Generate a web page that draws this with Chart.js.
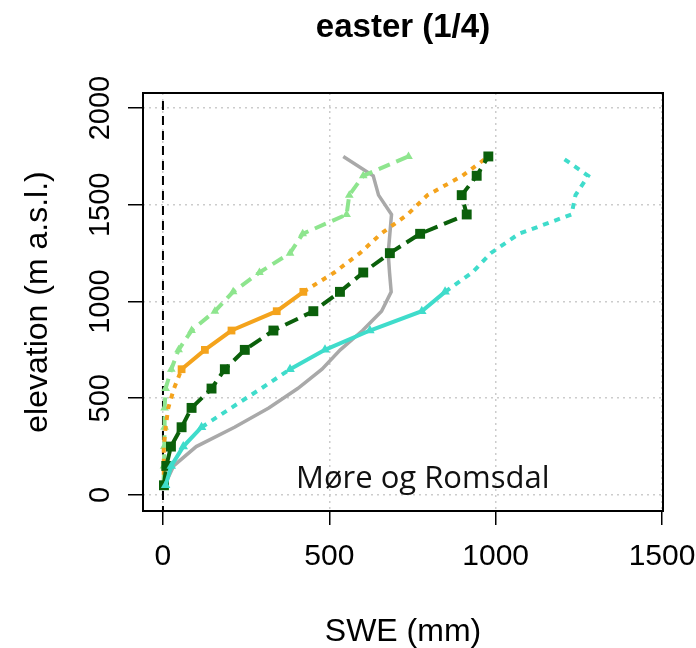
<!DOCTYPE html>
<html>
<head>
<meta charset="utf-8">
<title>easter (1/4)</title>
<script src="https://cdn.jsdelivr.net/npm/chart.js@4.4.0/dist/chart.umd.min.js"></script>
<style>
  html, body { margin: 0; padding: 0; background: #fff; }
  canvas { display: block; }
</style>
</head>
<body>
<canvas id="chart" width="696" height="648"></canvas>
<script>
// elevation bands (m a.s.l.) and SWE (mm) per curve
const elevation = [50, 150, 250, 350, 450, 550, 650, 750, 850, 950, 1050, 1150, 1250, 1350, 1450, 1550, 1650, 1750];

const sweGrey       = [5, 32, 100, 215, 318, 405, 478, 533, 600, 657, 686, 681, 677, 682, 687, 648, 632, 542];
const sweLightGreen = [2, 3, 4, 5, 5, 8, 25, 47, 86, 156, 211, 290, 382, 420, 552, 560, 602, 738];
const sweOrange     = [1, 2, 3, 8, 16, 33, 56, 126, 206, 342, 422, 515, 592, 655, 735, 795, 900, 978];
const sweDarkGreen  = [3, 10, 24, 56, 86, 146, 186, 246, 332, 452, 532, 602, 682, 773, 913, 898, 943, 978];
const sweTurquoise  = [8, 25, 61, 116, 205, 295, 382, 487, 622, 778, 848, 930, 985, 1070, 1228, 1240, 1278, 1195];

// index ranges drawn solid (with markers); the rest is dotted
const orangeSolid = [[6, 10]];
const turquoiseSolid = [[0, 3], [6, 10]];

const xTicks = [0, 500, 1000, 1500];
const xTickLabels = ['0', '500', '1000', '1500'];
const yTicks = [0, 500, 1000, 1500, 2000];
const yTickLabels = ['0', '500', '1000', '1500', '2000'];

const pairs = swe => swe.map((v, i) => ({ x: v, y: elevation[i] }));
const inRanges = (ranges, a, b) => ranges.some(r => a >= r[0] && b <= r[1]);

function dottedOutside(ranges, dash) {
  return ctx => inRanges(ranges, ctx.p0DataIndex, ctx.p1DataIndex) ? [] : dash;
}
function radiusInside(ranges, r) {
  return elevation.map((e, i) => inRanges(ranges, i, i) ? r : 0);
}

const axisFont = 'Liberation Sans, Arial, sans-serif';

const framePlugin = {
  id: 'frame',
  beforeDatasetsDraw(chart) {
    const { ctx, chartArea: a, scales: { x } } = chart;
    const px = x.getPixelForValue(0);
    ctx.save();
    ctx.strokeStyle = '#000';
    ctx.lineWidth = 2;
    ctx.setLineDash([9, 6]);
    ctx.beginPath();
    ctx.moveTo(px, a.top + 8);
    ctx.lineTo(px, a.bottom);
    ctx.stroke();
    ctx.restore();
  },
  afterDraw(chart) {
    const { ctx, chartArea: a, scales: { x, y } } = chart;
    ctx.save();
    ctx.strokeStyle = '#000';
    ctx.lineWidth = 2;
    ctx.strokeRect(a.left, a.top, a.right - a.left, a.bottom - a.top);

    ctx.fillStyle = '#000';
    ctx.textAlign = 'center';
    ctx.textBaseline = 'alphabetic';
    ctx.font = 'bold 33px ' + axisFont;
    ctx.fillText('easter (1/4)', (a.left + a.right) / 2, 37);

    ctx.font = '32px ' + axisFont;
    ctx.textBaseline = 'middle';
    ctx.fillText('SWE (mm)', (a.left + a.right) / 2, 632);

    ctx.save();
    ctx.translate(38, (a.top + a.bottom) / 2);
    ctx.rotate(-Math.PI / 2);
    ctx.fillText('elevation (m a.s.l.)', 0, 0);
    ctx.restore();

    ctx.font = '30px ' + axisFont;
    xTicks.forEach((v, i) => {
      ctx.fillText(xTickLabels[i], x.getPixelForValue(v), 557);
    });

    ctx.font = '29px ' + axisFont;
    yTicks.forEach((v, i) => {
      ctx.save();
      ctx.translate(101, y.getPixelForValue(v));
      ctx.rotate(-Math.PI / 2);
      ctx.fillText(yTickLabels[i], 0, 0);
      ctx.restore();
    });

    ctx.textAlign = 'left';
    ctx.textBaseline = 'alphabetic';
    ctx.font = '31px "Open Sans", sans-serif';
    ctx.fillStyle = '#111';
    ctx.fillText('Møre og Romsdal', x.getPixelForValue(400), y.getPixelForValue(36));
    ctx.restore();
  }
};

new Chart(document.getElementById('chart'), {
  type: 'scatter',
  data: {
    datasets: [
      {
        data: pairs(sweGrey),
        showLine: true,
        borderColor: '#a9a9a9',
        borderWidth: 3.5,
        pointRadius: 0,
        order: 5
      },
      {
        data: pairs(sweLightGreen),
        showLine: true,
        borderColor: '#8ee58e',
        backgroundColor: '#8ee58e',
        borderWidth: 4,
        borderDash: [12, 7],
        pointStyle: 'triangle',
        pointRadius: 5,
        pointBorderWidth: 0,
        order: 4
      },
      {
        data: pairs(sweOrange),
        showLine: true,
        borderColor: '#f4a31c',
        backgroundColor: '#f4a31c',
        borderWidth: 4,
        segment: { borderDash: dottedOutside(orangeSolid, [5, 6]) },
        pointStyle: 'rect',
        pointRadius: radiusInside(orangeSolid, 5.5),
        pointBorderWidth: 0,
        order: 3
      },
      {
        data: pairs(sweDarkGreen),
        showLine: true,
        borderColor: '#0b600b',
        backgroundColor: '#0b600b',
        borderWidth: 4,
        borderDash: [14, 7],
        pointStyle: 'rect',
        pointRadius: 7,
        pointBorderWidth: 0,
        order: 2
      },
      {
        data: pairs(sweTurquoise),
        showLine: true,
        borderColor: '#3fdccb',
        backgroundColor: '#3fdccb',
        borderWidth: 4,
        segment: { borderDash: dottedOutside(turquoiseSolid, [6, 6]) },
        pointStyle: 'triangle',
        pointRadius: radiusInside(turquoiseSolid, 5.5),
        pointBorderWidth: 0,
        order: 1
      }
    ]
  },
  options: {
    responsive: false,
    animation: false,
    devicePixelRatio: 1,
    events: [],
    layout: { padding: { left: 0, top: 93, right: 33, bottom: 0 } },
    plugins: {
      legend: { display: false },
      tooltip: { enabled: false },
      title: { display: false }
    },
    scales: {
      x: {
        type: 'linear',
        min: -60,
        max: 1503,
        afterBuildTicks: s => { s.ticks = xTicks.map(v => ({ value: v })); },
        afterFit: s => { s.height = 137; },
        grid: { color: '#cccccc', lineWidth: 1.5, tickColor: '#000', tickWidth: 1.5, tickLength: 14 },
        border: { display: false, dash: [2, 4] },
        ticks: { display: false }
      },
      y: {
        type: 'linear',
        min: -83,
        max: 2078,
        afterBuildTicks: s => { s.ticks = yTicks.map(v => ({ value: v })); },
        afterFit: s => { s.width = 143; },
        grid: { color: '#cccccc', lineWidth: 1.5, tickColor: '#000', tickWidth: 1.5, tickLength: 15 },
        border: { display: false, dash: [2, 4] },
        ticks: { display: false }
      }
    }
  },
  plugins: [framePlugin]
});
</script>
</body>
</html>
